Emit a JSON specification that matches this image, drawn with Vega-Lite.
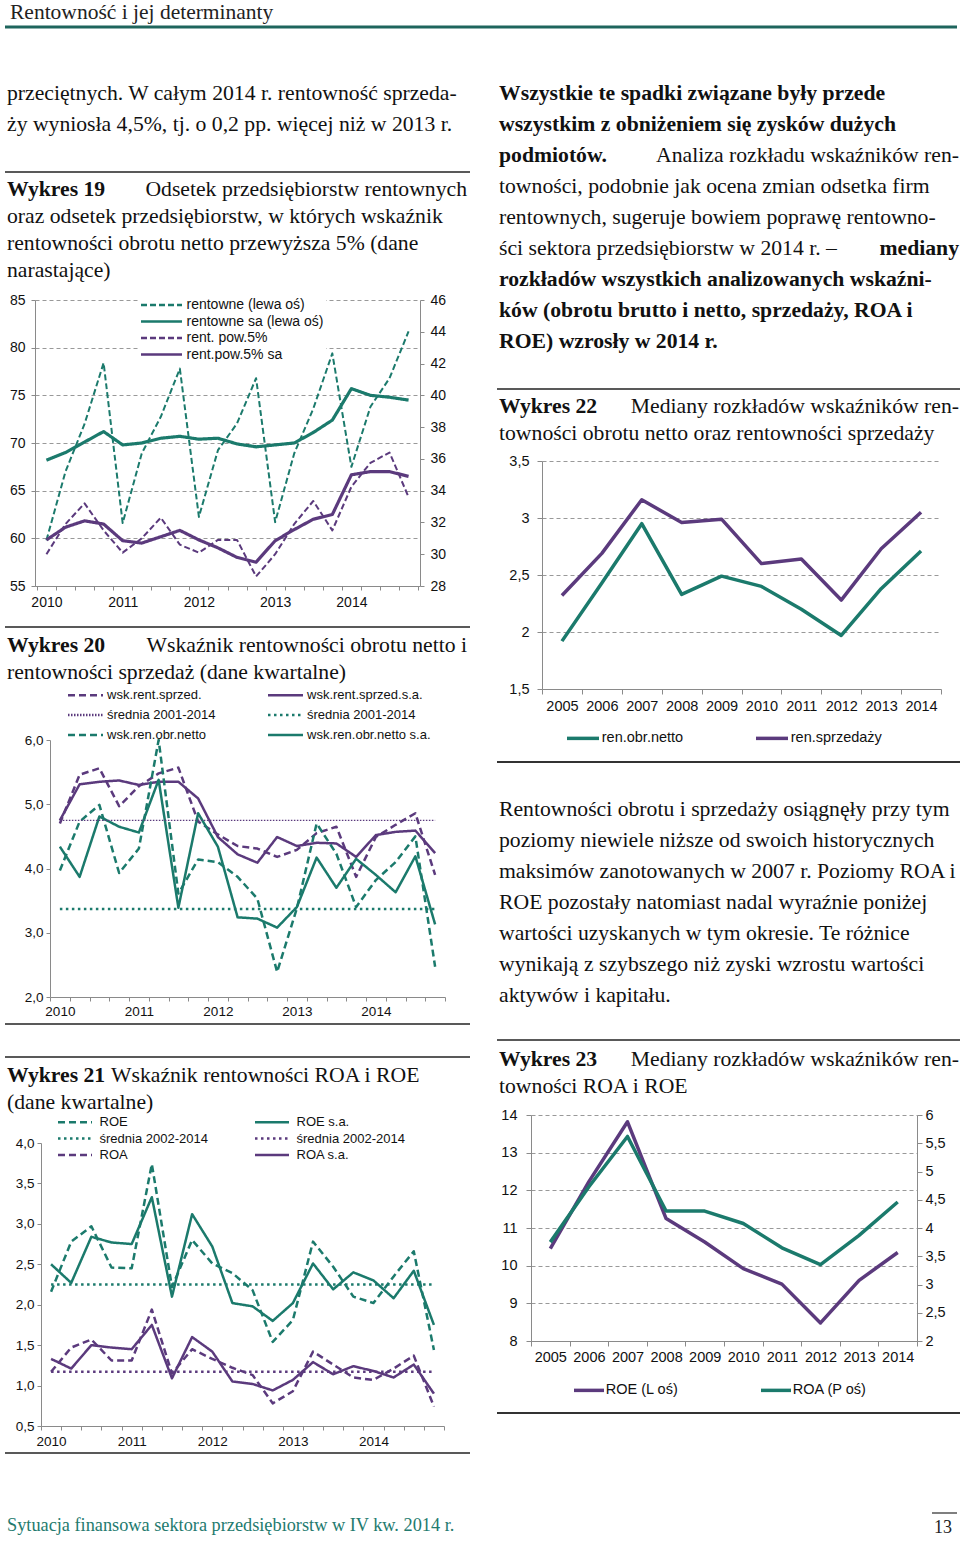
{
"$schema": "https://vega.github.io/schema/vega-lite/v6.json",
"padding": {"left": 3, "top": 0, "right": 0, "bottom": 0},
"background": "white",
"config": {
  "view": {"stroke": null},
  "axis": {"labelFont": "Liberation Sans", "labelColor": "#111", "domainColor": "#8a8a8a", "tickColor": "#8a8a8a", "title": null, "grid": false, "labelAngle": 0, "labelOverlap": false},
  "axisRight": {"labelOverlap": false},
  "legend": {"labelFont": "Liberation Sans", "labelColor": "#111", "title": null},
  "line": {"strokeCap": "butt", "strokeJoin": "round"}
},
"datasets": {
  "txt": [
    {"blk": "H", "line": 1, "part": "L", "bold": false, "text": "Rentowność i jej determinanty"},
    {"blk": "LA", "line": 1, "part": "L", "bold": false, "text": "przeciętnych. W całym 2014 r. rentowność sprzeda-"},
    {"blk": "LA", "line": 2, "part": "L", "bold": false, "text": "ży wyniosła 4,5%, tj. o 0,2 pp. więcej niż w 2013 r."},
    {"blk": "LB", "line": 1, "part": "L", "bold": true, "text": "Wykres 19"},
    {"blk": "LB", "line": 1, "part": "R", "bold": false, "text": "Odsetek przedsiębiorstw rentownych"},
    {"blk": "LB", "line": 2, "part": "L", "bold": false, "text": "oraz odsetek przedsiębiorstw, w których wskaźnik"},
    {"blk": "LB", "line": 3, "part": "L", "bold": false, "text": "rentowności obrotu netto przewyższa 5% (dane"},
    {"blk": "LB", "line": 4, "part": "L", "bold": false, "text": "narastające)"},
    {"blk": "LC", "line": 1, "part": "L", "bold": true, "text": "Wykres 20"},
    {"blk": "LC", "line": 1, "part": "R", "bold": false, "text": "Wskaźnik rentowności obrotu netto i"},
    {"blk": "LC", "line": 2, "part": "L", "bold": false, "text": "rentowności sprzedaż (dane kwartalne)"},
    {"blk": "LD", "line": 1, "part": "L", "bold": true, "text": "Wykres 21"},
    {"blk": "LD", "line": 1, "part": "F", "bold": false, "text": "Wskaźnik rentowności  ROA  i  ROE"},
    {"blk": "LD", "line": 2, "part": "L", "bold": false, "text": "(dane kwartalne)"},
    {"blk": "RA", "line": 1, "part": "L", "bold": true, "text": "Wszystkie te spadki związane były przede"},
    {"blk": "RA", "line": 2, "part": "L", "bold": true, "text": "wszystkim z obniżeniem się zysków dużych"},
    {"blk": "RA", "line": 3, "part": "L", "bold": true, "text": "podmiotów."},
    {"blk": "RA", "line": 3, "part": "R", "bold": false, "text": "Analiza rozkładu wskaźników ren-"},
    {"blk": "RA", "line": 4, "part": "L", "bold": false, "text": "towności, podobnie jak ocena zmian odsetka firm"},
    {"blk": "RA", "line": 5, "part": "L", "bold": false, "text": "rentownych, sugeruje bowiem poprawę rentowno-"},
    {"blk": "RA", "line": 6, "part": "L", "bold": false, "text": "ści sektora przedsiębiorstw w 2014 r. –"},
    {"blk": "RA", "line": 6, "part": "R", "bold": true, "text": "mediany"},
    {"blk": "RA", "line": 7, "part": "L", "bold": true, "text": "rozkładów wszystkich analizowanych wskaźni-"},
    {"blk": "RA", "line": 8, "part": "L", "bold": true, "text": "ków (obrotu brutto i netto, sprzedaży, ROA i"},
    {"blk": "RA", "line": 9, "part": "L", "bold": true, "text": "ROE) wzrosły w 2014 r."},
    {"blk": "RB", "line": 1, "part": "L", "bold": true, "text": "Wykres 22"},
    {"blk": "RB", "line": 1, "part": "R", "bold": false, "text": "Mediany rozkładów wskaźników ren-"},
    {"blk": "RB", "line": 2, "part": "L", "bold": false, "text": "towności obrotu netto oraz rentowności sprzedaży"},
    {"blk": "RC", "line": 1, "part": "L", "bold": false, "text": "Rentowności obrotu i sprzedaży osiągnęły przy tym"},
    {"blk": "RC", "line": 2, "part": "L", "bold": false, "text": "poziomy niewiele niższe od swoich historycznych"},
    {"blk": "RC", "line": 3, "part": "L", "bold": false, "text": "maksimów zanotowanych w 2007 r. Poziomy ROA i"},
    {"blk": "RC", "line": 4, "part": "L", "bold": false, "text": "ROE pozostały natomiast nadal wyraźnie poniżej"},
    {"blk": "RC", "line": 5, "part": "L", "bold": false, "text": "wartości uzyskanych w tym okresie. Te różnice"},
    {"blk": "RC", "line": 6, "part": "L", "bold": false, "text": "wynikają z szybszego niż zyski wzrostu wartości"},
    {"blk": "RC", "line": 7, "part": "L", "bold": false, "text": "aktywów i kapitału."},
    {"blk": "RD", "line": 1, "part": "L", "bold": true, "text": "Wykres 23"},
    {"blk": "RD", "line": 1, "part": "R", "bold": false, "text": "Mediany rozkładów wskaźników ren-"},
    {"blk": "RD", "line": 2, "part": "L", "bold": false, "text": "towności ROA i ROE"},
    {"blk": "F", "line": 1, "part": "L", "bold": false, "text": "Sytuacja finansowa sektora przedsiębiorstw w IV kw. 2014 r."},
    {"blk": "F", "line": 1, "part": "R", "bold": false, "text": "13"}
  ],
  "d19": [
    {"q": "2010Q1", "rentowne": 59.8, "rentowne_sa": 68.2, "pow5": 30.0, "pow5_sa": 30.9},
    {"q": "2010Q2", "rentowne": 67.0, "rentowne_sa": 69.0, "pow5": 31.9, "pow5_sa": 31.7},
    {"q": "2010Q3", "rentowne": 72.0, "rentowne_sa": 70.1, "pow5": 33.2, "pow5_sa": 32.1},
    {"q": "2010Q4", "rentowne": 78.4, "rentowne_sa": 71.2, "pow5": 31.5, "pow5_sa": 31.9},
    {"q": "2011Q1", "rentowne": 61.6, "rentowne_sa": 69.8, "pow5": 30.1, "pow5_sa": 30.85},
    {"q": "2011Q2", "rentowne": 68.9, "rentowne_sa": 70.0, "pow5": 31.0, "pow5_sa": 30.7},
    {"q": "2011Q3", "rentowne": 72.75, "rentowne_sa": 70.5, "pow5": 32.3, "pow5_sa": 31.1},
    {"q": "2011Q4", "rentowne": 77.8, "rentowne_sa": 70.7, "pow5": 30.6, "pow5_sa": 31.5},
    {"q": "2012Q1", "rentowne": 62.25, "rentowne_sa": 70.4, "pow5": 30.1, "pow5_sa": 30.9},
    {"q": "2012Q2", "rentowne": 69.25, "rentowne_sa": 70.5, "pow5": 30.9, "pow5_sa": 30.4},
    {"q": "2012Q3", "rentowne": 72.05, "rentowne_sa": 69.9, "pow5": 30.9, "pow5_sa": 29.8},
    {"q": "2012Q4", "rentowne": 76.8, "rentowne_sa": 69.6, "pow5": 28.6, "pow5_sa": 29.5},
    {"q": "2013Q1", "rentowne": 61.7, "rentowne_sa": 69.8, "pow5": 30.0, "pow5_sa": 30.85},
    {"q": "2013Q2", "rentowne": 68.9, "rentowne_sa": 70.0, "pow5": 31.9, "pow5_sa": 31.55},
    {"q": "2013Q3", "rentowne": 73.6, "rentowne_sa": 71.1, "pow5": 33.35, "pow5_sa": 32.2},
    {"q": "2013Q4", "rentowne": 79.4, "rentowne_sa": 72.4, "pow5": 31.5, "pow5_sa": 32.5},
    {"q": "2014Q1", "rentowne": 67.5, "rentowne_sa": 75.7, "pow5": 34.25, "pow5_sa": 35.0},
    {"q": "2014Q2", "rentowne": 73.8, "rentowne_sa": 75.0, "pow5": 35.75, "pow5_sa": 35.2},
    {"q": "2014Q3", "rentowne": 76.8, "rentowne_sa": 74.8, "pow5": 36.4, "pow5_sa": 35.2},
    {"q": "2014Q4", "rentowne": 81.7, "rentowne_sa": 74.5, "pow5": 33.6, "pow5_sa": 34.9}
  ],
  "d20": [
    {"q": "2010Q1", "sprz": 4.70, "sprz_sa": 4.75, "sr_p": 4.75, "sr_t": 3.37, "obr": 3.97, "obr_sa": 4.34},
    {"q": "2010Q2", "sprz": 5.46, "sprz_sa": 5.31, "sr_p": 4.75, "sr_t": 3.37, "obr": 4.73, "obr_sa": 3.87},
    {"q": "2010Q3", "sprz": 5.56, "sprz_sa": 5.35, "sr_p": 4.75, "sr_t": 3.37, "obr": 4.99, "obr_sa": 4.81},
    {"q": "2010Q4", "sprz": 4.97, "sprz_sa": 5.37, "sr_p": 4.75, "sr_t": 3.37, "obr": 3.93, "obr_sa": 4.65},
    {"q": "2011Q1", "sprz": 5.28, "sprz_sa": 5.30, "sr_p": 4.75, "sr_t": 3.37, "obr": 4.31, "obr_sa": 4.56},
    {"q": "2011Q2", "sprz": 5.48, "sprz_sa": 5.35, "sr_p": 4.75, "sr_t": 3.37, "obr": 6.00, "obr_sa": 5.38},
    {"q": "2011Q3", "sprz": 5.57, "sprz_sa": 5.35, "sr_p": 4.75, "sr_t": 3.37, "obr": 3.61, "obr_sa": 3.39},
    {"q": "2011Q4", "sprz": 4.73, "sprz_sa": 5.09, "sr_p": 4.75, "sr_t": 3.37, "obr": 4.14, "obr_sa": 4.86},
    {"q": "2012Q1", "sprz": 4.53, "sprz_sa": 4.49, "sr_p": 4.75, "sr_t": 3.37, "obr": 4.10, "obr_sa": 4.34},
    {"q": "2012Q2", "sprz": 4.35, "sprz_sa": 4.22, "sr_p": 4.75, "sr_t": 3.37, "obr": 3.87, "obr_sa": 3.24},
    {"q": "2012Q3", "sprz": 4.31, "sprz_sa": 4.09, "sr_p": 4.75, "sr_t": 3.37, "obr": 3.53, "obr_sa": 3.22},
    {"q": "2012Q4", "sprz": 4.18, "sprz_sa": 4.49, "sr_p": 4.75, "sr_t": 3.37, "obr": 2.39, "obr_sa": 3.08},
    {"q": "2013Q1", "sprz": 4.29, "sprz_sa": 4.35, "sr_p": 4.75, "sr_t": 3.37, "obr": 3.38, "obr_sa": 3.40},
    {"q": "2013Q2", "sprz": 4.55, "sprz_sa": 4.40, "sr_p": 4.75, "sr_t": 3.37, "obr": 4.70, "obr_sa": 4.17},
    {"q": "2013Q3", "sprz": 4.65, "sprz_sa": 4.39, "sr_p": 4.75, "sr_t": 3.37, "obr": 4.23, "obr_sa": 3.70},
    {"q": "2013Q4", "sprz": 3.87, "sprz_sa": 4.18, "sr_p": 4.75, "sr_t": 3.37, "obr": 3.40, "obr_sa": 4.15},
    {"q": "2014Q1", "sprz": 4.49, "sprz_sa": 4.52, "sr_p": 4.75, "sr_t": 3.37, "obr": 3.82, "obr_sa": 3.90},
    {"q": "2014Q2", "sprz": 4.68, "sprz_sa": 4.57, "sr_p": 4.75, "sr_t": 3.37, "obr": 4.10, "obr_sa": 3.63},
    {"q": "2014Q3", "sprz": 4.86, "sprz_sa": 4.59, "sr_p": 4.75, "sr_t": 3.37, "obr": 4.50, "obr_sa": 4.19},
    {"q": "2014Q4", "sprz": 3.90, "sprz_sa": 4.24, "sr_p": 4.75, "sr_t": 3.37, "obr": 2.47, "obr_sa": 3.13}
  ],
  "d21": [
    {"q": "2010Q1", "roe": 2.16, "roe_sa": 2.50, "sr_t": 2.25, "sr_p": 1.17, "roa": 1.17, "roa_sa": 1.33},
    {"q": "2010Q2", "roe": 2.78, "roe_sa": 2.27, "sr_t": 2.25, "sr_p": 1.17, "roa": 1.47, "roa_sa": 1.21},
    {"q": "2010Q3", "roe": 2.97, "roe_sa": 2.84, "sr_t": 2.25, "sr_p": 1.17, "roa": 1.57, "roa_sa": 1.50},
    {"q": "2010Q4", "roe": 2.46, "roe_sa": 2.77, "sr_t": 2.25, "sr_p": 1.17, "roa": 1.31, "roa_sa": 1.47},
    {"q": "2011Q1", "roe": 2.45, "roe_sa": 2.75, "sr_t": 2.25, "sr_p": 1.17, "roa": 1.31, "roa_sa": 1.45},
    {"q": "2011Q2", "roe": 3.74, "roe_sa": 3.33, "sr_t": 2.25, "sr_p": 1.17, "roa": 1.94, "roa_sa": 1.75},
    {"q": "2011Q3", "roe": 2.22, "roe_sa": 2.10, "sr_t": 2.25, "sr_p": 1.17, "roa": 1.15, "roa_sa": 1.09},
    {"q": "2011Q4", "roe": 2.80, "roe_sa": 3.12, "sr_t": 2.25, "sr_p": 1.17, "roa": 1.45, "roa_sa": 1.60},
    {"q": "2012Q1", "roe": 2.51, "roe_sa": 2.72, "sr_t": 2.25, "sr_p": 1.17, "roa": 1.33, "roa_sa": 1.42},
    {"q": "2012Q2", "roe": 2.39, "roe_sa": 2.02, "sr_t": 2.25, "sr_p": 1.17, "roa": 1.22, "roa_sa": 1.05},
    {"q": "2012Q3", "roe": 2.18, "roe_sa": 1.98, "sr_t": 2.25, "sr_p": 1.17, "roa": 1.13, "roa_sa": 1.02},
    {"q": "2012Q4", "roe": 1.54, "roe_sa": 1.80, "sr_t": 2.25, "sr_p": 1.17, "roa": 0.78, "roa_sa": 0.94},
    {"q": "2013Q1", "roe": 1.81, "roe_sa": 2.02, "sr_t": 2.25, "sr_p": 1.17, "roa": 0.93, "roa_sa": 1.07},
    {"q": "2013Q2", "roe": 2.78, "roe_sa": 2.51, "sr_t": 2.25, "sr_p": 1.17, "roa": 1.42, "roa_sa": 1.29},
    {"q": "2013Q3", "roe": 2.47, "roe_sa": 2.19, "sr_t": 2.25, "sr_p": 1.17, "roa": 1.26, "roa_sa": 1.14},
    {"q": "2013Q4", "roe": 2.10, "roe_sa": 2.40, "sr_t": 2.25, "sr_p": 1.17, "roa": 1.10, "roa_sa": 1.24},
    {"q": "2014Q1", "roe": 2.02, "roe_sa": 2.30, "sr_t": 2.25, "sr_p": 1.17, "roa": 1.07, "roa_sa": 1.18},
    {"q": "2014Q2", "roe": 2.35, "roe_sa": 2.08, "sr_t": 2.25, "sr_p": 1.17, "roa": 1.21, "roa_sa": 1.10},
    {"q": "2014Q3", "roe": 2.66, "roe_sa": 2.42, "sr_t": 2.25, "sr_p": 1.17, "roa": 1.37, "roa_sa": 1.26},
    {"q": "2014Q4", "roe": 1.44, "roe_sa": 1.75, "sr_t": 2.25, "sr_p": 1.17, "roa": 0.74, "roa_sa": 0.90}
  ],
  "d22": [
    {"year": "2005", "obr": 1.92, "sprz": 2.32},
    {"year": "2006", "obr": 2.43, "sprz": 2.69},
    {"year": "2007", "obr": 2.95, "sprz": 3.16},
    {"year": "2008", "obr": 2.33, "sprz": 2.96},
    {"year": "2009", "obr": 2.49, "sprz": 2.99},
    {"year": "2010", "obr": 2.40, "sprz": 2.60},
    {"year": "2011", "obr": 2.20, "sprz": 2.64},
    {"year": "2012", "obr": 1.97, "sprz": 2.28},
    {"year": "2013", "obr": 2.38, "sprz": 2.73},
    {"year": "2014", "obr": 2.71, "sprz": 3.05}
  ],
  "d23": [
    {"year": "2005", "roe": 10.45, "roa": 3.75},
    {"year": "2006", "roe": 12.23, "roa": 4.73},
    {"year": "2007", "roe": 13.82, "roa": 5.62},
    {"year": "2008", "roe": 11.25, "roa": 4.30},
    {"year": "2009", "roe": 10.63, "roa": 4.30},
    {"year": "2010", "roe": 9.92, "roa": 4.08},
    {"year": "2011", "roe": 9.51, "roa": 3.65},
    {"year": "2012", "roe": 8.48, "roa": 3.35},
    {"year": "2013", "roe": 9.61, "roa": 3.87},
    {"year": "2014", "roe": 10.35, "roa": 4.46}
  ]
},
"spacing": 0,
"resolve": {"scale": {"color": "independent", "strokeDash": "independent"}},
"vconcat": [
  {
    "width": 952, "height": 30,
    "layer": [
      {"data": {"name": "txt"}, "transform": [{"filter": "datum.blk=='H'"}],
       "mark": {"type": "text", "align": "left", "baseline": "middle", "dx": 5, "font": "Liberation Serif", "fontSize": 21.5, "color": "#222"},
       "encoding": {"x": {"datum": 0, "type": "quantitative", "scale": {"domain": [0, 1], "nice": false, "zero": false}, "axis": null},
                    "y": {"field": "line", "type": "quantitative", "scale": {"domain": [0.5833, 1.5833], "reverse": true, "nice": false, "zero": false}, "axis": null},
                    "text": {"field": "text", "type": "nominal"}}},
      {"data": {"values": [{"r": 1}]}, "mark": {"type": "rule", "color": "#1e655d", "strokeWidth": 3},
       "encoding": {"y": {"datum": 1.4833, "type": "quantitative", "scale": {"domain": [0.5833, 1.5833], "reverse": true, "nice": false, "zero": false}, "axis": null}}}
    ]
  },
  {
    "spacing": 25,
    "resolve": {"scale": {"color": "independent", "strokeDash": "independent"}},
    "hconcat": [
      {
        "spacing": 0,
        "bounds": "flush",
        "resolve": {"scale": {"color": "independent", "strokeDash": "independent"}},
        "vconcat": [
          {
            "width": 465, "height": 120,
            "layer": [
              {"data": {"name": "txt"}, "transform": [{"filter": "datum.blk=='LA'"}],
               "mark": {"type": "text", "align": "left", "baseline": "middle", "dx": 2, "font": "Liberation Serif", "fontSize": 21.7, "color": "#111"},
               "encoding": {"x": {"datum": 0, "type": "quantitative", "scale": {"domain": [0, 1], "nice": false, "zero": false}, "axis": null},
                            "y": {"field": "line", "type": "quantitative", "scale": {"domain": [-1.0323, 2.8387], "reverse": true, "nice": false, "zero": false}, "axis": null},
                            "text": {"field": "text", "type": "nominal"}}}
            ]
          },
          {
            "width": 465, "height": 150,
            "layer": [
              {"data": {"name": "txt"}, "transform": [{"filter": "datum.blk=='LB' && datum.part=='L' && !datum.bold"}],
               "mark": {"type": "text", "align": "left", "baseline": "middle", "dx": 2, "font": "Liberation Serif", "fontSize": 21.7, "color": "#111"},
               "encoding": {"x": {"datum": 0, "type": "quantitative", "scale": {"domain": [0, 1], "nice": false, "zero": false}, "axis": null},
                            "y": {"field": "line", "type": "quantitative", "scale": {"domain": [-0.4444, 5.1111], "reverse": true, "nice": false, "zero": false}, "axis": null},
                            "text": {"field": "text", "type": "nominal"}}},
              {"data": {"name": "txt"}, "transform": [{"filter": "datum.blk=='LB' && datum.part=='L' && datum.bold"}],
               "mark": {"type": "text", "align": "left", "baseline": "middle", "dx": 2, "font": "Liberation Serif", "fontSize": 21.7, "fontWeight": "bold", "color": "#111"},
               "encoding": {"x": {"datum": 0, "type": "quantitative", "scale": {"domain": [0, 1], "nice": false, "zero": false}, "axis": null},
                            "y": {"field": "line", "type": "quantitative", "scale": {"domain": [-0.4444, 5.1111], "reverse": true, "nice": false, "zero": false}, "axis": null},
                            "text": {"field": "text", "type": "nominal"}}},
              {"data": {"name": "txt"}, "transform": [{"filter": "datum.blk=='LB' && datum.part=='R'"}],
               "mark": {"type": "text", "align": "right", "baseline": "middle", "dx": -3, "font": "Liberation Serif", "fontSize": 21.7, "color": "#111"},
               "encoding": {"x": {"datum": 1, "type": "quantitative", "scale": {"domain": [0, 1], "nice": false, "zero": false}, "axis": null},
                            "y": {"field": "line", "type": "quantitative", "scale": {"domain": [-0.4444, 5.1111], "reverse": true, "nice": false, "zero": false}, "axis": null},
                            "text": {"field": "text", "type": "nominal"}}},
              {"data": {"values": [{"r": 1}]}, "mark": {"type": "rule", "color": "#222", "strokeWidth": 1.6},
               "encoding": {"y": {"datum": 0.3704, "type": "quantitative", "scale": {"domain": [-0.4444, 5.1111], "reverse": true, "nice": false, "zero": false}, "axis": null}}}
            ]
          },
          {
            "width": 465, "height": 286,
            "data": {"name": "d19"},
            "layer": [
              {"layer": [
                {"transform": [{"fold": ["rentowne"], "as": ["key", "v"]}],
                 "mark": {"type": "line", "strokeWidth": 2},
                 "encoding": {
                   "x": {"field": "q", "type": "ordinal", "bandPosition": 0.5, "scale": {"type": "band", "range": [30, 415], "paddingInner": 0, "paddingOuter": 0.1}, "axis": {"tickBand": "extent", "labelExpr": "substring(datum.value,4)=='Q1'?substring(datum.value,0,4):''", "labelOverlap": false, "labelAngle": 0, "labelFontSize": 14, "tickSize": 4, "labelPadding": 5, "title": null}},
                   "y": {"field": "v", "type": "quantitative", "scale": {"domain": [55, 85], "nice": false, "zero": false}, "axis": {"offset": -30, "values": [55, 60, 65, 70, 75, 80, 85], "labelOverlap": false, "grid": true, "gridDash": [4, 3], "gridColor": "#999", "tickSize": 4, "labelPadding": 6, "labelFontSize": 14, "title": null}},
                   "color": {"field": "key", "type": "nominal", "scale": {"domain": ["rentowne", "rentowne_sa", "pow5", "pow5_sa"], "range": ["#1b7a6c", "#1b7a6c", "#5b3a7d", "#5b3a7d"]},
                     "legend": {"orient": "none", "legendX": 134, "legendY": -4, "direction": "vertical", "symbolType": "M-4.1,0H4.1", "symbolSize": 100, "symbolOffset": 13.5, "symbolStrokeWidth": 2.5, "labelFontSize": 14, "labelOffset": 18, "rowPadding": 2.5, "fillColor": "white", "padding": 2, "labelExpr": "datum.value=='rentowne'?'rentowne (lewa oś)':datum.value=='rentowne_sa'?'rentowne sa (lewa oś)':datum.value=='pow5'?'rent. pow.5%':'rent.pow.5% sa'"}},
                   "strokeDash": {"field": "key", "type": "nominal", "scale": {"domain": ["rentowne", "rentowne_sa", "pow5", "pow5_sa"], "range": [[6, 3], [1, 0], [6, 3], [1, 0]]}}
                 }},
                {"transform": [{"fold": ["rentowne_sa"], "as": ["key", "v"]}],
                 "mark": {"type": "line", "strokeWidth": 3.2},
                 "encoding": {
                   "x": {"field": "q", "type": "ordinal", "bandPosition": 0.5, "scale": {"type": "band", "range": [30, 415], "paddingInner": 0, "paddingOuter": 0.1}},
                   "y": {"field": "v", "type": "quantitative", "scale": {"domain": [55, 85], "nice": false, "zero": false}},
                   "color": {"field": "key", "type": "nominal", "scale": {"domain": ["rentowne", "rentowne_sa", "pow5", "pow5_sa"], "range": ["#1b7a6c", "#1b7a6c", "#5b3a7d", "#5b3a7d"]}},
                   "strokeDash": {"field": "key", "type": "nominal", "scale": {"domain": ["rentowne", "rentowne_sa", "pow5", "pow5_sa"], "range": [[6, 3], [1, 0], [6, 3], [1, 0]]}}
                 }}
              ]},
              {"layer": [
                {"transform": [{"fold": ["pow5"], "as": ["key", "v"]}],
                 "mark": {"type": "line", "strokeWidth": 2},
                 "encoding": {
                   "x": {"field": "q", "type": "ordinal", "bandPosition": 0.5, "scale": {"type": "band", "range": [30, 415], "paddingInner": 0, "paddingOuter": 0.1}},
                   "y": {"field": "v", "type": "quantitative", "scale": {"domain": [28, 46], "nice": false, "zero": false}, "axis": {"orient": "right", "offset": -50, "values": [28, 30, 32, 34, 36, 38, 40, 42, 44, 46], "labelOverlap": false, "labelBound": false, "grid": false, "tickSize": 4, "labelPadding": 6, "labelFontSize": 14, "title": null}},
                   "color": {"field": "key", "type": "nominal", "scale": {"domain": ["rentowne", "rentowne_sa", "pow5", "pow5_sa"], "range": ["#1b7a6c", "#1b7a6c", "#5b3a7d", "#5b3a7d"]}},
                   "strokeDash": {"field": "key", "type": "nominal", "scale": {"domain": ["rentowne", "rentowne_sa", "pow5", "pow5_sa"], "range": [[6, 3], [1, 0], [6, 3], [1, 0]]}}
                 }},
                {"transform": [{"fold": ["pow5_sa"], "as": ["key", "v"]}],
                 "mark": {"type": "line", "strokeWidth": 3.2},
                 "encoding": {
                   "x": {"field": "q", "type": "ordinal", "bandPosition": 0.5, "scale": {"type": "band", "range": [30, 415], "paddingInner": 0, "paddingOuter": 0.1}},
                   "y": {"field": "v", "type": "quantitative", "scale": {"domain": [28, 46], "nice": false, "zero": false}, "axis": {"orient": "right", "offset": -50, "values": [28, 30, 32, 34, 36, 38, 40, 42, 44, 46], "labelOverlap": false, "labelBound": false, "grid": false, "tickSize": 4, "labelPadding": 6, "labelFontSize": 14, "title": null}},
                   "color": {"field": "key", "type": "nominal", "scale": {"domain": ["rentowne", "rentowne_sa", "pow5", "pow5_sa"], "range": ["#1b7a6c", "#1b7a6c", "#5b3a7d", "#5b3a7d"]}},
                   "strokeDash": {"field": "key", "type": "nominal", "scale": {"domain": ["rentowne", "rentowne_sa", "pow5", "pow5_sa"], "range": [[6, 3], [1, 0], [6, 3], [1, 0]]}}
                 }}
              ]}
            ],
            "resolve": {"scale": {"y": "independent"}}
          },
          {
            "width": 465, "height": 154,
            "layer": [
              {"data": {"name": "txt"}, "transform": [{"filter": "datum.blk=='LC' && datum.part=='L' && !datum.bold"}],
               "mark": {"type": "text", "align": "left", "baseline": "middle", "dx": 2, "font": "Liberation Serif", "fontSize": 21.7, "color": "#111"},
               "encoding": {"x": {"datum": 0, "type": "quantitative", "scale": {"domain": [0, 1], "nice": false, "zero": false}, "axis": null},
                            "y": {"field": "line", "type": "quantitative", "scale": {"domain": [-1.1852, 4.5185], "reverse": true, "nice": false, "zero": false}, "axis": null},
                            "text": {"field": "text", "type": "nominal"}}},
              {"data": {"name": "txt"}, "transform": [{"filter": "datum.blk=='LC' && datum.part=='L' && datum.bold"}],
               "mark": {"type": "text", "align": "left", "baseline": "middle", "dx": 2, "font": "Liberation Serif", "fontSize": 21.7, "fontWeight": "bold", "color": "#111"},
               "encoding": {"x": {"datum": 0, "type": "quantitative", "scale": {"domain": [0, 1], "nice": false, "zero": false}, "axis": null},
                            "y": {"field": "line", "type": "quantitative", "scale": {"domain": [-1.1852, 4.5185], "reverse": true, "nice": false, "zero": false}, "axis": null},
                            "text": {"field": "text", "type": "nominal"}}},
              {"data": {"name": "txt"}, "transform": [{"filter": "datum.blk=='LC' && datum.part=='R'"}],
               "mark": {"type": "text", "align": "right", "baseline": "middle", "dx": -3, "font": "Liberation Serif", "fontSize": 21.7, "color": "#111"},
               "encoding": {"x": {"datum": 1, "type": "quantitative", "scale": {"domain": [0, 1], "nice": false, "zero": false}, "axis": null},
                            "y": {"field": "line", "type": "quantitative", "scale": {"domain": [-1.1852, 4.5185], "reverse": true, "nice": false, "zero": false}, "axis": null},
                            "text": {"field": "text", "type": "nominal"}}},
              {"data": {"values": [{"r": 1}]}, "mark": {"type": "rule", "color": "#222", "strokeWidth": 1.6},
               "encoding": {"y": {"datum": 0.3333, "type": "quantitative", "scale": {"domain": [-1.1852, 4.5185], "reverse": true, "nice": false, "zero": false}, "axis": null}}}
            ]
          },
          {
            "width": 465, "height": 257,
            "data": {"name": "d20"},
            "layer": [
              {"transform": [{"fold": ["sprz", "sprz_sa", "sr_t", "obr", "obr_sa"], "as": ["key", "v"]}],
               "mark": {"type": "line", "strokeWidth": 2.5},
               "encoding": {
                 "x": {"field": "q", "type": "ordinal", "bandPosition": 0.5, "scale": {"type": "band", "range": [45, 440], "paddingInner": 0, "paddingOuter": 0}, "axis": {"tickBand": "extent", "labelExpr": "substring(datum.value,4)=='Q1'?substring(datum.value,0,4):''", "labelOverlap": false, "labelAngle": 0, "labelFontSize": 13.5, "tickSize": 4, "labelPadding": 3, "title": null}},
                 "y": {"field": "v", "type": "quantitative", "scale": {"domain": [2, 6], "nice": false, "zero": false}, "axis": {"offset": -45, "values": [2, 2.5, 3, 3.5, 4, 4.5, 5, 5.5, 6], "labelOverlap": false, "format": ".1f", "labelExpr": "replace(datum.label,'.',',')", "tickSize": 4, "labelPadding": 3, "labelFontSize": 13.5, "title": null}},
                 "color": {"field": "key", "type": "nominal", "scale": {"domain": ["sprz", "sprz_sa", "sr_p", "sr_t", "obr", "obr_sa"], "range": ["#5b3a7d", "#5b3a7d", "#5b3a7d", "#1b7a6c", "#1b7a6c", "#1b7a6c"]},
                   "legend": {"orient": "none", "legendX": 63, "legendY": -51.5, "columns": 2, "direction": "horizontal", "symbolType": "M-3.5,0H3.5", "symbolSize": 100, "symbolOffset": 11, "symbolStrokeWidth": 2.5, "labelFontSize": 13, "labelOffset": 15, "rowPadding": 6, "columnPadding": 50, "padding": 0, "labelExpr": "datum.value=='sprz'?'wsk.rent.sprzed.':datum.value=='sprz_sa'?'wsk.rent.sprzed.s.a.':datum.value=='obr'?'wsk.ren.obr.netto':datum.value=='obr_sa'?'wsk.ren.obr.netto s.a.':'średnia 2001-2014'"}},
                 "strokeDash": {"field": "key", "type": "nominal", "scale": {"domain": ["sprz", "sprz_sa", "sr_p", "sr_t", "obr", "obr_sa"], "range": [[7, 4], [1, 0], [1.5, 1.5], [2.5, 3.5], [7, 4], [1, 0]]}}
               }},
              {"transform": [{"fold": ["sr_p"], "as": ["key", "v"]}],
               "mark": {"type": "line", "strokeWidth": 1.3},
               "encoding": {
                 "x": {"field": "q", "type": "ordinal", "bandPosition": 0.5, "scale": {"type": "band", "range": [45, 440], "paddingInner": 0, "paddingOuter": 0}},
                 "y": {"field": "v", "type": "quantitative", "scale": {"domain": [2, 6], "nice": false, "zero": false}},
                 "color": {"field": "key", "type": "nominal", "scale": {"domain": ["sprz", "sprz_sa", "sr_p", "sr_t", "obr", "obr_sa"], "range": ["#5b3a7d", "#5b3a7d", "#5b3a7d", "#1b7a6c", "#1b7a6c", "#1b7a6c"]}},
                 "strokeDash": {"field": "key", "type": "nominal", "scale": {"domain": ["sprz", "sprz_sa", "sr_p", "sr_t", "obr", "obr_sa"], "range": [[7, 4], [1, 0], [1.5, 1.5], [2.5, 3.5], [7, 4], [1, 0]]}}
               }}
            ]
          },
          {
            "width": 465, "height": 146,
            "layer": [
              {"data": {"name": "txt"}, "transform": [{"filter": "datum.blk=='LD' && datum.part=='L' && !datum.bold"}],
               "mark": {"type": "text", "align": "left", "baseline": "middle", "dx": 2, "font": "Liberation Serif", "fontSize": 21.7, "color": "#111"},
               "encoding": {"x": {"datum": 0, "type": "quantitative", "scale": {"domain": [0, 1], "nice": false, "zero": false}, "axis": null},
                            "y": {"field": "line", "type": "quantitative", "scale": {"domain": [-1.8889, 3.5185], "reverse": true, "nice": false, "zero": false}, "axis": null},
                            "text": {"field": "text", "type": "nominal"}}},
              {"data": {"name": "txt"}, "transform": [{"filter": "datum.blk=='LD' && datum.part=='L' && datum.bold"}],
               "mark": {"type": "text", "align": "left", "baseline": "middle", "dx": 2, "font": "Liberation Serif", "fontSize": 21.7, "fontWeight": "bold", "color": "#111"},
               "encoding": {"x": {"datum": 0, "type": "quantitative", "scale": {"domain": [0, 1], "nice": false, "zero": false}, "axis": null},
                            "y": {"field": "line", "type": "quantitative", "scale": {"domain": [-1.8889, 3.5185], "reverse": true, "nice": false, "zero": false}, "axis": null},
                            "text": {"field": "text", "type": "nominal"}}},
              {"data": {"name": "txt"}, "transform": [{"filter": "datum.blk=='LD' && datum.part=='F'"}],
               "mark": {"type": "text", "align": "left", "baseline": "middle", "dx": 106, "font": "Liberation Serif", "fontSize": 21.7, "color": "#111"},
               "encoding": {"x": {"datum": 0, "type": "quantitative", "scale": {"domain": [0, 1], "nice": false, "zero": false}, "axis": null},
                            "y": {"field": "line", "type": "quantitative", "scale": {"domain": [-1.8889, 3.5185], "reverse": true, "nice": false, "zero": false}, "axis": null},
                            "text": {"field": "text", "type": "nominal"}}},
              {"data": {"values": [{"r": 1}]}, "mark": {"type": "rule", "color": "#222", "strokeWidth": 1.6},
               "encoding": {"y": {"datum": -0.8889, "type": "quantitative", "scale": {"domain": [-1.8889, 3.5185], "reverse": true, "nice": false, "zero": false}, "axis": null}}},
              {"data": {"values": [{"r": 1}]}, "mark": {"type": "rule", "color": "#222", "strokeWidth": 1.6},
               "encoding": {"y": {"datum": 0.3333, "type": "quantitative", "scale": {"domain": [-1.8889, 3.5185], "reverse": true, "nice": false, "zero": false}, "axis": null}}}
            ]
          },
          {
            "width": 465, "height": 283,
            "data": {"name": "d21"},
            "transform": [{"fold": ["roe", "roe_sa", "sr_t", "sr_p", "roa", "roa_sa"], "as": ["key", "v"]}],
            "mark": {"type": "line", "strokeWidth": 2.5},
            "encoding": {
              "x": {"field": "q", "type": "ordinal", "bandPosition": 0.5, "scale": {"type": "band", "range": [36, 439], "paddingInner": 0, "paddingOuter": 0}, "axis": {"tickBand": "extent", "labelExpr": "substring(datum.value,4)=='Q1'?substring(datum.value,0,4):''", "labelOverlap": false, "labelAngle": 0, "labelFontSize": 13.5, "tickSize": 4, "labelPadding": 4, "title": null}},
              "y": {"field": "v", "type": "quantitative", "scale": {"domain": [0.5, 4], "nice": false, "zero": false}, "axis": {"offset": -36, "values": [0.5, 1, 1.5, 2, 2.5, 3, 3.5, 4], "labelOverlap": false, "format": ".1f", "labelExpr": "replace(datum.label,'.',',')", "tickSize": 4, "labelPadding": 3, "labelFontSize": 13.5, "title": null}},
              "color": {"field": "key", "type": "nominal", "scale": {"domain": ["roe", "roe_sa", "sr_t", "sr_p", "roa", "roa_sa"], "range": ["#1b7a6c", "#1b7a6c", "#1b7a6c", "#5b3a7d", "#5b3a7d", "#5b3a7d"]},
                "legend": {"orient": "none", "legendX": 53, "legendY": -27.5, "columns": 2, "direction": "horizontal", "symbolType": "M-3.4,0H3.4", "symbolSize": 100, "symbolOffset": 10.5, "symbolStrokeWidth": 2.5, "labelFontSize": 13, "labelOffset": 18, "rowPadding": 2.5, "columnPadding": 45, "padding": 0, "labelExpr": "datum.value=='roe'?'ROE':datum.value=='roe_sa'?'ROE s.a.':datum.value=='roa'?'ROA':datum.value=='roa_sa'?'ROA s.a.':'średnia 2002-2014'"}},
              "strokeDash": {"field": "key", "type": "nominal", "scale": {"domain": ["roe", "roe_sa", "sr_t", "sr_p", "roa", "roa_sa"], "range": [[7, 4], [1, 0], [2.5, 3.5], [2.5, 3.5], [7, 4], [1, 0]]}}
            }
          },
          {
            "width": 465, "height": 44,
            "data": {"values": [{"r": 1}]},
            "mark": {"type": "rule", "color": "#222", "strokeWidth": 1.6},
            "encoding": {"y": {"datum": 1, "type": "quantitative", "scale": {"domain": [0, 1.6296], "reverse": true, "nice": false, "zero": false}, "axis": null}}
          }
        ]
      },
      {
        "spacing": 0,
        "bounds": "flush",
        "resolve": {"scale": {"color": "independent", "strokeDash": "independent"}},
        "vconcat": [
          {
            "width": 465, "height": 340,
            "layer": [
              {"data": {"name": "txt"}, "transform": [{"filter": "datum.blk=='RA' && datum.part=='L' && !datum.bold"}],
               "mark": {"type": "text", "align": "left", "baseline": "middle", "dx": 2, "font": "Liberation Serif", "fontSize": 21.7, "color": "#111"},
               "encoding": {"x": {"datum": 0, "type": "quantitative", "scale": {"domain": [0, 1], "nice": false, "zero": false}, "axis": null},
                            "y": {"field": "line", "type": "quantitative", "scale": {"domain": [-1.0323, 9.9355], "reverse": true, "nice": false, "zero": false}, "axis": null},
                            "text": {"field": "text", "type": "nominal"}}},
              {"data": {"name": "txt"}, "transform": [{"filter": "datum.blk=='RA' && datum.part=='L' && datum.bold"}],
               "mark": {"type": "text", "align": "left", "baseline": "middle", "dx": 2, "font": "Liberation Serif", "fontSize": 21.7, "fontWeight": "bold", "color": "#111"},
               "encoding": {"x": {"datum": 0, "type": "quantitative", "scale": {"domain": [0, 1], "nice": false, "zero": false}, "axis": null},
                            "y": {"field": "line", "type": "quantitative", "scale": {"domain": [-1.0323, 9.9355], "reverse": true, "nice": false, "zero": false}, "axis": null},
                            "text": {"field": "text", "type": "nominal"}}},
              {"data": {"name": "txt"}, "transform": [{"filter": "datum.blk=='RA' && datum.part=='R' && !datum.bold"}],
               "mark": {"type": "text", "align": "right", "baseline": "middle", "dx": -3, "font": "Liberation Serif", "fontSize": 21.7, "color": "#111"},
               "encoding": {"x": {"datum": 1, "type": "quantitative", "scale": {"domain": [0, 1], "nice": false, "zero": false}, "axis": null},
                            "y": {"field": "line", "type": "quantitative", "scale": {"domain": [-1.0323, 9.9355], "reverse": true, "nice": false, "zero": false}, "axis": null},
                            "text": {"field": "text", "type": "nominal"}}},
              {"data": {"name": "txt"}, "transform": [{"filter": "datum.blk=='RA' && datum.part=='R' && datum.bold"}],
               "mark": {"type": "text", "align": "right", "baseline": "middle", "dx": -3, "font": "Liberation Serif", "fontSize": 21.7, "fontWeight": "bold", "color": "#111"},
               "encoding": {"x": {"datum": 1, "type": "quantitative", "scale": {"domain": [0, 1], "nice": false, "zero": false}, "axis": null},
                            "y": {"field": "line", "type": "quantitative", "scale": {"domain": [-1.0323, 9.9355], "reverse": true, "nice": false, "zero": false}, "axis": null},
                            "text": {"field": "text", "type": "nominal"}}}
            ]
          },
          {
            "width": 465, "height": 91,
            "layer": [
              {"data": {"name": "txt"}, "transform": [{"filter": "datum.blk=='RB' && datum.part=='L' && !datum.bold"}],
               "mark": {"type": "text", "align": "left", "baseline": "middle", "dx": 2, "font": "Liberation Serif", "fontSize": 21.7, "color": "#111"},
               "encoding": {"x": {"datum": 0, "type": "quantitative", "scale": {"domain": [0, 1], "nice": false, "zero": false}, "axis": null},
                            "y": {"field": "line", "type": "quantitative", "scale": {"domain": [-0.3333, 3.037], "reverse": true, "nice": false, "zero": false}, "axis": null},
                            "text": {"field": "text", "type": "nominal"}}},
              {"data": {"name": "txt"}, "transform": [{"filter": "datum.blk=='RB' && datum.part=='L' && datum.bold"}],
               "mark": {"type": "text", "align": "left", "baseline": "middle", "dx": 2, "font": "Liberation Serif", "fontSize": 21.7, "fontWeight": "bold", "color": "#111"},
               "encoding": {"x": {"datum": 0, "type": "quantitative", "scale": {"domain": [0, 1], "nice": false, "zero": false}, "axis": null},
                            "y": {"field": "line", "type": "quantitative", "scale": {"domain": [-0.3333, 3.037], "reverse": true, "nice": false, "zero": false}, "axis": null},
                            "text": {"field": "text", "type": "nominal"}}},
              {"data": {"name": "txt"}, "transform": [{"filter": "datum.blk=='RB' && datum.part=='R'"}],
               "mark": {"type": "text", "align": "right", "baseline": "middle", "dx": -3, "font": "Liberation Serif", "fontSize": 21.7, "color": "#111"},
               "encoding": {"x": {"datum": 1, "type": "quantitative", "scale": {"domain": [0, 1], "nice": false, "zero": false}, "axis": null},
                            "y": {"field": "line", "type": "quantitative", "scale": {"domain": [-0.3333, 3.037], "reverse": true, "nice": false, "zero": false}, "axis": null},
                            "text": {"field": "text", "type": "nominal"}}},
              {"data": {"values": [{"r": 1}]}, "mark": {"type": "rule", "color": "#222", "strokeWidth": 1.6},
               "encoding": {"y": {"datum": 0.3704, "type": "quantitative", "scale": {"domain": [-0.3333, 3.037], "reverse": true, "nice": false, "zero": false}, "axis": null}}}
            ]
          },
          {
            "width": 465, "height": 228,
            "data": {"name": "d22"},
            "transform": [{"fold": ["obr", "sprz"], "as": ["key", "v"]}],
            "mark": {"type": "line", "strokeWidth": 3.5},
            "encoding": {
              "x": {"field": "year", "type": "ordinal", "bandPosition": 0.5, "scale": {"type": "band", "range": [45, 444], "paddingInner": 0, "paddingOuter": 0}, "axis": {"tickBand": "extent", "labelAngle": 0, "labelFontSize": 14.5, "tickSize": 5, "labelPadding": 5, "title": null}},
              "y": {"field": "v", "type": "quantitative", "scale": {"domain": [1.5, 3.5], "nice": false, "zero": false}, "axis": {"offset": -45, "values": [1.5, 2, 2.5, 3, 3.5], "labelOverlap": false, "format": "~g", "labelExpr": "replace(datum.label,'.',',')", "grid": true, "gridDash": [4, 3], "gridColor": "#999", "tickSize": 5, "labelPadding": 8, "labelFontSize": 14.5, "title": null}},
              "color": {"field": "key", "type": "nominal", "scale": {"domain": ["obr", "sprz"], "range": ["#1b7a6c", "#5b3a7d"]},
                "legend": {"orient": "none", "legendX": 70, "legendY": 270, "columns": 2, "direction": "horizontal", "symbolType": "M-3.2,0H3.2", "symbolSize": 100, "symbolOffset": 8.75, "symbolStrokeWidth": 3.5, "labelFontSize": 14.5, "labelOffset": 11.5, "columnPadding": 70, "padding": 0, "labelExpr": "datum.value=='obr'?'ren.obr.netto':'ren.sprzedaży'"}}
            }
          },
          {
            "width": 465, "height": 341,
            "layer": [
              {"data": {"name": "txt"}, "transform": [{"filter": "datum.blk=='RC'"}],
               "mark": {"type": "text", "align": "left", "baseline": "middle", "dx": 2, "font": "Liberation Serif", "fontSize": 21.7, "color": "#111"},
               "encoding": {"x": {"datum": 0, "type": "quantitative", "scale": {"domain": [0, 1], "nice": false, "zero": false}, "axis": null},
                            "y": {"field": "line", "type": "quantitative", "scale": {"domain": [-2.871, 8.129], "reverse": true, "nice": false, "zero": false}, "axis": null},
                            "text": {"field": "text", "type": "nominal"}}},
              {"data": {"values": [{"r": 1}]}, "mark": {"type": "rule", "color": "#333", "strokeWidth": 1.8},
               "encoding": {"y": {"datum": -0.5161, "type": "quantitative", "scale": {"domain": [-2.871, 8.129], "reverse": true, "nice": false, "zero": false}, "axis": null}}}
            ]
          },
          {
            "width": 465, "height": 85,
            "layer": [
              {"data": {"name": "txt"}, "transform": [{"filter": "datum.blk=='RD' && datum.part=='L' && !datum.bold"}],
               "mark": {"type": "text", "align": "left", "baseline": "middle", "dx": 2, "font": "Liberation Serif", "fontSize": 21.7, "color": "#111"},
               "encoding": {"x": {"datum": 0, "type": "quantitative", "scale": {"domain": [0, 1], "nice": false, "zero": false}, "axis": null},
                            "y": {"field": "line", "type": "quantitative", "scale": {"domain": [-0.0741, 3.0741], "reverse": true, "nice": false, "zero": false}, "axis": null},
                            "text": {"field": "text", "type": "nominal"}}},
              {"data": {"name": "txt"}, "transform": [{"filter": "datum.blk=='RD' && datum.part=='L' && datum.bold"}],
               "mark": {"type": "text", "align": "left", "baseline": "middle", "dx": 2, "font": "Liberation Serif", "fontSize": 21.7, "fontWeight": "bold", "color": "#111"},
               "encoding": {"x": {"datum": 0, "type": "quantitative", "scale": {"domain": [0, 1], "nice": false, "zero": false}, "axis": null},
                            "y": {"field": "line", "type": "quantitative", "scale": {"domain": [-0.0741, 3.0741], "reverse": true, "nice": false, "zero": false}, "axis": null},
                            "text": {"field": "text", "type": "nominal"}}},
              {"data": {"name": "txt"}, "transform": [{"filter": "datum.blk=='RD' && datum.part=='R'"}],
               "mark": {"type": "text", "align": "right", "baseline": "middle", "dx": -3, "font": "Liberation Serif", "fontSize": 21.7, "color": "#111"},
               "encoding": {"x": {"datum": 1, "type": "quantitative", "scale": {"domain": [0, 1], "nice": false, "zero": false}, "axis": null},
                            "y": {"field": "line", "type": "quantitative", "scale": {"domain": [-0.0741, 3.0741], "reverse": true, "nice": false, "zero": false}, "axis": null},
                            "text": {"field": "text", "type": "nominal"}}},
              {"data": {"values": [{"r": 1}]}, "mark": {"type": "rule", "color": "#222", "strokeWidth": 1.6},
               "encoding": {"y": {"datum": 0.2963, "type": "quantitative", "scale": {"domain": [-0.0741, 3.0741], "reverse": true, "nice": false, "zero": false}, "axis": null}}}
            ]
          },
          {
            "width": 465, "height": 226,
            "data": {"name": "d23"},
            "layer": [
              {"transform": [{"fold": ["roe"], "as": ["key", "v"]}],
               "mark": {"type": "line", "strokeWidth": 3.5},
               "encoding": {
                 "x": {"field": "year", "type": "ordinal", "bandPosition": 0.5, "scale": {"type": "band", "range": [34, 420], "paddingInner": 0, "paddingOuter": 0}, "axis": {"tickBand": "extent", "labelAngle": 0, "labelFontSize": 14.5, "tickSize": 5, "labelPadding": 4, "title": null}},
                 "y": {"field": "v", "type": "quantitative", "scale": {"domain": [8, 14], "nice": false, "zero": false}, "axis": {"offset": -34, "values": [8, 9, 10, 11, 12, 13, 14], "labelOverlap": false, "grid": true, "gridDash": [4, 3], "gridColor": "#999", "tickSize": 5, "labelPadding": 9, "labelFontSize": 14.5, "title": null}},
                 "color": {"field": "key", "type": "nominal", "scale": {"domain": ["roe", "roa"], "range": ["#5b3a7d", "#1b7a6c"]},
                   "legend": {"orient": "none", "legendX": 77, "legendY": 268, "columns": 2, "direction": "horizontal", "symbolType": "M-3,0H3", "symbolSize": 100, "symbolOffset": 7.75, "symbolStrokeWidth": 3.5, "labelFontSize": 14.5, "labelOffset": 9.5, "columnPadding": 76, "padding": 0, "labelExpr": "datum.value=='roe'?'ROE  (L oś)':'ROA (P oś)'"}}
               }},
              {"transform": [{"fold": ["roa"], "as": ["key", "v"]}],
               "mark": {"type": "line", "strokeWidth": 3.5},
               "encoding": {
                 "x": {"field": "year", "type": "ordinal", "bandPosition": 0.5, "scale": {"type": "band", "range": [34, 420], "paddingInner": 0, "paddingOuter": 0}},
                 "y": {"field": "v", "type": "quantitative", "scale": {"domain": [2, 6], "nice": false, "zero": false}, "axis": {"orient": "right", "offset": -45, "values": [2, 2.5, 3, 3.5, 4, 4.5, 5, 5.5, 6], "labelOverlap": false, "format": "~g", "labelExpr": "replace(datum.label,'.',',')", "tickSize": 5, "labelPadding": 3, "labelFontSize": 14.5, "title": null}},
                 "color": {"field": "key", "type": "nominal", "scale": {"domain": ["roe", "roa"], "range": ["#5b3a7d", "#1b7a6c"]}}
               }}
            ],
            "resolve": {"scale": {"y": "independent"}}
          },
          {
            "width": 465, "height": 129,
            "data": {"values": [{"r": 1}]},
            "mark": {"type": "rule", "color": "#333", "strokeWidth": 1.8},
            "encoding": {"y": {"datum": 1, "type": "quantitative", "scale": {"domain": [-1.6667, 3.1111], "reverse": true, "nice": false, "zero": false}, "axis": null}}
          }
        ]
      }
    ]
  },
  {
    "width": 952, "height": 73,
    "layer": [
      {"data": {"name": "txt"}, "transform": [{"filter": "datum.blk=='F' && datum.part=='L'"}],
       "mark": {"type": "text", "align": "left", "baseline": "middle", "dx": 2, "font": "Liberation Serif", "fontSize": 18.3, "color": "#237a6e"},
       "encoding": {"x": {"datum": 0, "type": "quantitative", "scale": {"domain": [0, 1], "nice": false, "zero": false}, "axis": null},
                    "y": {"field": "line", "type": "quantitative", "scale": {"domain": [-0.8667, 1.5667], "reverse": true, "nice": false, "zero": false}, "axis": null},
                    "text": {"field": "text", "type": "nominal"}}},
      {"data": {"name": "txt"}, "transform": [{"filter": "datum.blk=='F' && datum.part=='R'"}],
       "mark": {"type": "text", "align": "right", "baseline": "middle", "dx": -5, "dy": 2, "font": "Liberation Serif", "fontSize": 18, "color": "#222"},
       "encoding": {"x": {"datum": 1, "type": "quantitative", "scale": {"domain": [0, 1], "nice": false, "zero": false}, "axis": null},
                    "y": {"field": "line", "type": "quantitative", "scale": {"domain": [-0.8667, 1.5667], "reverse": true, "nice": false, "zero": false}, "axis": null},
                    "text": {"field": "text", "type": "nominal"}}},
      {"data": {"values": [{"r": 1}]}, "mark": {"type": "rule", "color": "#555", "strokeWidth": 1.5},
       "encoding": {"x": {"datum": 0.9737, "type": "quantitative", "scale": {"domain": [0, 1], "nice": false, "zero": false}, "axis": null},
                    "x2": {"datum": 1},
                    "y": {"datum": 0.5667, "type": "quantitative", "scale": {"domain": [-0.8667, 1.5667], "reverse": true, "nice": false, "zero": false}, "axis": null}}}
    ]
  }
]
}
